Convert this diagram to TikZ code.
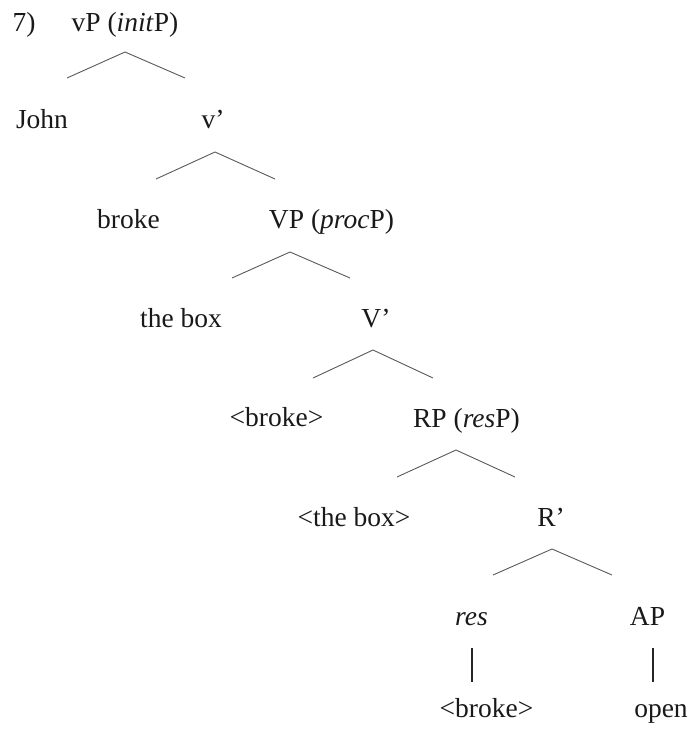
\documentclass[tikz,border=0pt]{standalone}
\usepackage{fontspec}
\setmainfont{Liberation Serif}
\begin{document}
\begin{tikzpicture}[x=1pt,y=-1pt,
  lbl/.style={anchor=base,inner sep=0pt,font=\fontsize{27.5}{33}\selectfont,text=black!90},
  branch/.style={draw=black!65,line width=0.9pt},
  stem/.style={draw=black!85,line width=1.5pt}]
\useasboundingbox (0,0) rectangle (690,729);
% labels
\node[lbl] (num) at (24,31) {7)};
\node[lbl] (vP) at (125,31) {vP (\textit{init}P)};
\node[lbl] (john) at (42,128) {John};
\node[lbl] (vbar) at (213,128) {v’};
\node[lbl] (broke) at (128.5,228) {broke};
\node[lbl] (VP) at (331.5,228) {VP (\textit{proc}P)};
\node[lbl] (thebox) at (181,327) {the box};
\node[lbl] (Vbar) at (376,327) {V’};
\node[lbl] (broket) at (276.5,426) {<broke>};
\node[lbl] (RP) at (466.5,427) {RP (\textit{res}P)};
\node[lbl] (theboxt) at (354,526) {<the box>};
\node[lbl] (Rbar) at (551,526) {R’};
\node[lbl] (res) at (471.5,625) {\textit{res}};
\node[lbl] (AP) at (647.5,625) {AP};
\node[lbl] (brokeb) at (486.5,717) {<broke>};
\node[lbl] (open) at (661,717) {open};
% branch points
\coordinate (a1) at (125,52);  \coordinate (l1) at (67,78);   \coordinate (r1) at (185,78);
\coordinate (a2) at (215,152); \coordinate (l2) at (156,179);  \coordinate (r2) at (275,179);
\coordinate (a3) at (290,252); \coordinate (l3) at (232,278);  \coordinate (r3) at (350,278);
\coordinate (a4) at (373,350); \coordinate (l4) at (313,378);  \coordinate (r4) at (433,378);
\coordinate (a5) at (456,450); \coordinate (l5) at (397,477);  \coordinate (r5) at (515,477);
\coordinate (a6) at (552,549); \coordinate (l6) at (493,575);  \coordinate (r6) at (612,575);
\coordinate (t1) at (472,648); \coordinate (b1) at (472,682);
\coordinate (t2) at (653,648); \coordinate (b2) at (653,682);
\draw[branch] (l1) -- (a1) -- (r1);
\draw[branch] (l2) -- (a2) -- (r2);
\draw[branch] (l3) -- (a3) -- (r3);
\draw[branch] (l4) -- (a4) -- (r4);
\draw[branch] (l5) -- (a5) -- (r5);
\draw[branch] (l6) -- (a6) -- (r6);
\draw[stem] (t1) -- (b1);
\draw[stem] (t2) -- (b2);
\end{tikzpicture}
\end{document}
